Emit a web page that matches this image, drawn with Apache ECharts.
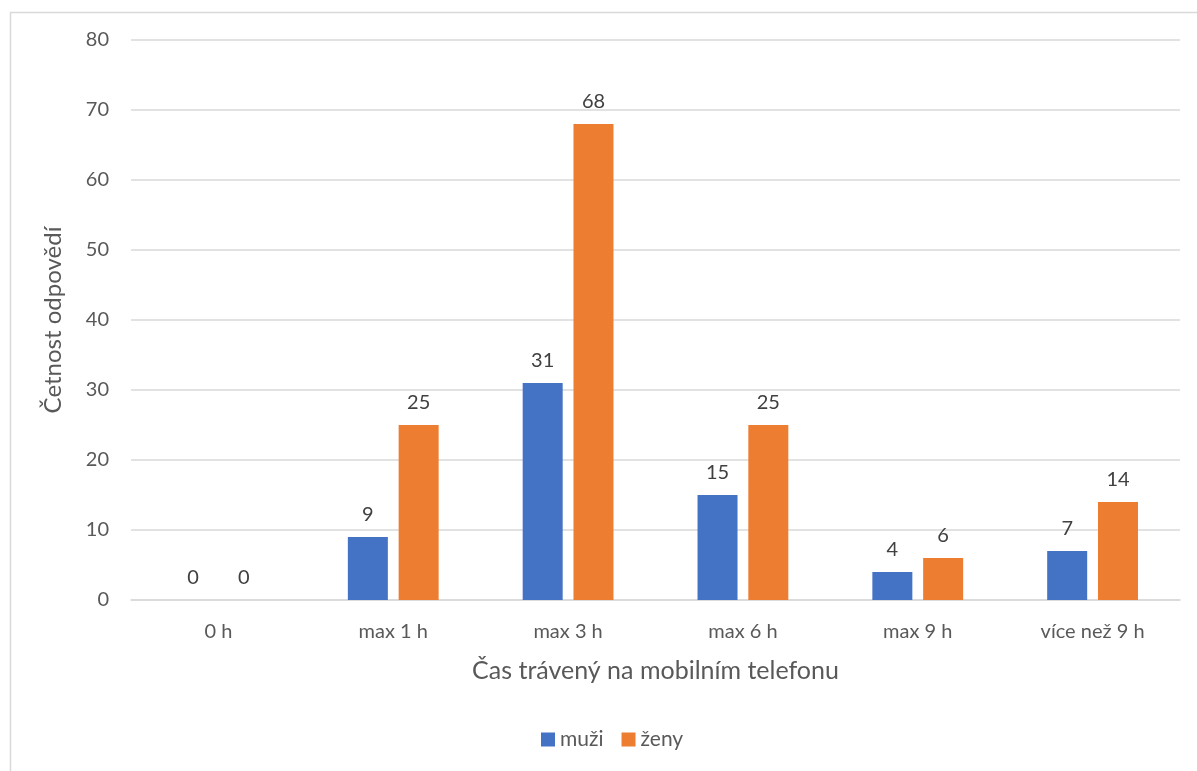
<!DOCTYPE html>
<html>
<head>
<meta charset="utf-8">
<script src="https://cdn.jsdelivr.net/npm/echarts@6/dist/echarts.min.js"></script>
<style>
  html, body { margin: 0; padding: 0; background: #ffffff; }
  #chart { width: 1197px; height: 771px; }
</style>
</head>
<body>
<div id="chart"></div>
<script>
const categories = ['0 h', 'max 1 h', 'max 3 h', 'max 6 h', 'max 9 h', 'více než 9 h'];
const muzi = [0, 9, 31, 15, 4, 7];
const zeny = [0, 25, 68, 25, 6, 14];
const seriesNames = ['muži', 'ženy'];
const yTicks = { min: 0, max: 80, interval: 10 };

const FONT = 'Lato, "Open Sans", sans-serif';
const chart = echarts.init(document.getElementById('chart'));

const labelStyle = {
  show: true,
  position: 'top',
  distance: 12,
  color: '#404040',
  fontSize: 20,
  fontFamily: FONT
};

chart.setOption({
  animation: false,
  textStyle: { fontFamily: FONT },
  graphic: [{
    type: 'rect',
    shape: { x: 10.5, y: 12.5, width: 1300, height: 900 },
    style: { fill: 'none', stroke: '#d9d9d9', lineWidth: 1.5 },
    silent: true,
    z: -1
  }],
  grid: { left: 131, right: 17, top: 40, bottom: 171, containLabel: false },
  legend: {
    data: seriesNames,
    bottom: 16,
    left: 536,
    itemWidth: 14,
    itemHeight: 14,
    itemGap: 18,
    icon: 'rect',
    textStyle: { color: '#595959', fontSize: 21, fontFamily: FONT }
  },
  xAxis: {
    type: 'category',
    data: categories,
    name: 'Čas trávený na mobilním telefonu',
    nameLocation: 'middle',
    nameGap: 58,
    nameTextStyle: { color: '#595959', fontSize: 25, fontFamily: FONT },
    axisLine: { lineStyle: { color: '#d9d9d9', width: 1.5 } },
    axisTick: { show: false },
    axisLabel: { color: '#595959', fontSize: 20, margin: 22, fontFamily: FONT }
  },
  yAxis: {
    type: 'value',
    min: yTicks.min,
    max: yTicks.max,
    interval: yTicks.interval,
    name: 'Četnost odpovědí',
    nameLocation: 'middle',
    nameGap: 66,
    nameRotate: 90,
    nameTextStyle: { color: '#595959', fontSize: 24, fontFamily: FONT },
    axisLine: { show: false },
    axisTick: { show: false },
    axisLabel: { color: '#595959', fontSize: 20, margin: 22, fontFamily: FONT },
    splitLine: { lineStyle: { color: '#d9d9d9', width: 1.5 } }
  },
  series: [
    {
      name: seriesNames[0],
      type: 'bar',
      data: muzi,
      barWidth: 40,
      barGap: '27%',
      itemStyle: { color: '#4472c4' },
      label: labelStyle
    },
    {
      name: seriesNames[1],
      type: 'bar',
      data: zeny,
      barWidth: 40,
      barGap: '27%',
      itemStyle: { color: '#ed7d31' },
      label: labelStyle
    }
  ]
});
</script>
</body>
</html>
